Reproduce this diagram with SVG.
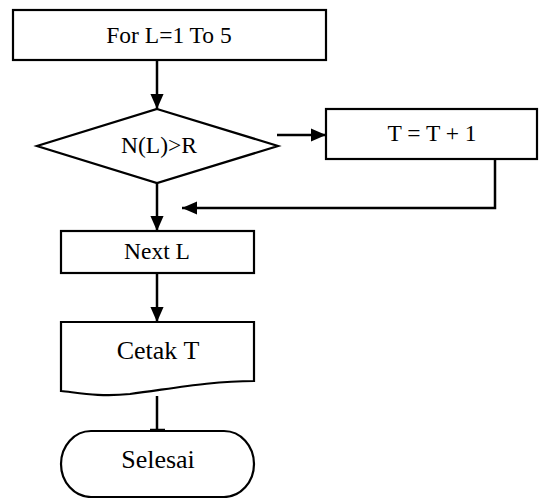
<svg xmlns="http://www.w3.org/2000/svg" width="539" height="498" viewBox="0 0 539 498">
<defs>
<marker id="ah" viewBox="0 0 16 14" refX="16" refY="7" markerWidth="6.2" markerHeight="5.4" orient="auto" markerUnits="strokeWidth">
<path d="M0,0 L16,7 L0,14 z" fill="#000"/>
</marker>
</defs>
<style>
.s{fill:#fff;stroke:#000;stroke-width:2.2}
.t{font-family:"Liberation Serif","Times New Roman",serif;font-size:23.5px;fill:#000;text-anchor:middle}
.b{font-size:26px}
.c{fill:none;stroke:#000;stroke-width:2.5}
</style>
<rect width="539" height="498" fill="#fff"/>
<g id="connectors">
<line class="c" x1="157" y1="60" x2="157" y2="109" marker-end="url(#ah)"/>
<line class="c" x1="277" y1="135" x2="326" y2="135" marker-end="url(#ah)"/>
<polyline class="c" points="495,159 495,208 182,208" marker-end="url(#ah)"/>
<line class="c" x1="157" y1="183" x2="157" y2="231" marker-end="url(#ah)"/>
<line class="c" x1="157" y1="273" x2="157" y2="322" marker-end="url(#ah)"/>
<line class="c" x1="157" y1="396" x2="157" y2="430"/>
<line class="c" x1="150" y1="430" x2="165" y2="430"/>
</g>
<g id="for">
<rect class="s" x="13" y="10" width="313" height="50"/>
<text class="t" x="169" y="43">For L=1 To 5</text>
</g>
<g id="decision">
<polygon class="s" points="157,109 278,146 157,183 37,146"/>
<text class="t" x="159" y="153">N(L)&gt;R</text>
</g>
<g id="inc">
<rect class="s" x="326" y="109" width="211" height="50"/>
<text class="t" x="432" y="141">T = T + 1</text>
</g>
<g id="next">
<rect class="s" x="61" y="231" width="193" height="42"/>
<text class="t" x="157" y="259">Next L</text>
</g>
<g id="cetak">
<path class="s" d="M61,322 L254,322 L254,381 C210,381 170,389 130,394 C100,397 80,393 61,391 Z"/>
<text class="t b" x="158" y="359">Cetak T</text>
</g>
<g id="selesai">
<rect class="s" x="61" y="431" width="193" height="66" rx="30" ry="33"/>
<text class="t b" x="158" y="468">Selesai</text>
</g>
</svg>
